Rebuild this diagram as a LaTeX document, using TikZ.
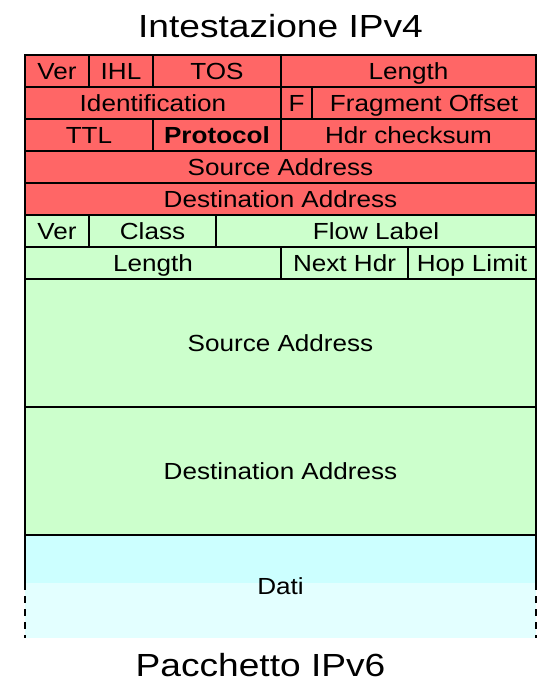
\documentclass[tikz,border=0pt]{standalone}
\usepackage{fontspec}
\setmainfont{Liberation Sans}[FakeStretch=1.12]
\newfontfamily\titlefont{Liberation Sans}[FakeStretch=1.16]
\definecolor{vfour}{HTML}{FF6666}
\definecolor{vsix}{HTML}{CCFFCC}
\definecolor{datitop}{HTML}{CCFFFF}
\definecolor{datibot}{HTML}{E3FFFF}
\tikzset{
  cell/.style={draw=black, line width=2.4pt, rectangle, inner sep=0pt, outer sep=0pt,
    minimum height=32pt, font=\fontsize{23.3}{28}\selectfont,
    text height=16.7pt, text depth=0pt, anchor=center},
  red cell/.style={cell, fill=vfour},
  green cell/.style={cell, fill=vsix},
  title/.style={font=\titlefont\fontsize{32}{38}\selectfont, inner sep=0pt,
    text height=22.7pt, text depth=0pt},
  border/.style={line width=2.4pt, draw=black},
  dashborder/.style={line width=2.4pt, draw=black, dash pattern=on 7pt off 6pt}
}
\begin{document}
\begin{tikzpicture}[x=1pt,y=-1pt]
\useasboundingbox (0,0) rectangle (541,679);
\node[title] (t4) at (280.5,26.3) {Intestazione IPv4};
% IPv4 header
\node[red cell, minimum width=64pt]  (v4ver) at (57,71) {Ver};
\node[red cell, minimum width=64pt]  (v4ihl) at (121,71) {IHL};
\node[red cell, minimum width=128pt] (v4tos) at (217,71) {TOS};
\node[red cell, minimum width=255pt] (v4len) at (408.5,71) {Length};
\node[red cell, minimum width=256pt] (v4id) at (153,103) {Identification};
\node[red cell, minimum width=31pt]  (v4f) at (296.5,103) {F};
\node[red cell, minimum width=224pt] (v4fo) at (424,103) {Fragment Offset};
\node[red cell, minimum width=128pt] (v4ttl) at (89,135) {TTL};
\node[red cell, minimum width=128pt] (v4proto) at (217,135) {\bfseries Protocol};
\node[red cell, minimum width=255pt] (v4chk) at (408.5,135) {Hdr checksum};
\node[red cell, minimum width=511pt] (v4src) at (280.5,167) {Source Address};
\node[red cell, minimum width=511pt] (v4dst) at (280.5,199) {Destination Address};
% IPv6 header
\node[green cell, minimum width=64pt]  (v6ver) at (57,231) {Ver};
\node[green cell, minimum width=127pt] (v6class) at (152.5,231) {Class};
\node[green cell, minimum width=320pt] (v6flow) at (376,231) {Flow Label};
\node[green cell, minimum width=256pt] (v6len) at (153,263) {Length};
\node[green cell, minimum width=127pt] (v6next) at (344.5,263) {Next Hdr};
\node[green cell, minimum width=128pt] (v6hop) at (472,263) {Hop Limit};
\node[green cell, minimum width=511pt, minimum height=128pt] (v6src) at (280.5,343) {Source Address};
\node[green cell, minimum width=511pt, minimum height=128pt] (v6dst) at (280.5,471) {Destination Address};
% Data
\fill[datitop] (25,535) rectangle (536,583);
\fill[datibot] (25,583) rectangle (536,638);
\node[cell, draw=none, minimum width=511pt, minimum height=103pt] (dati) at (280.5,586.5) {Dati};
\coordinate (lmid) at (25,583);
\coordinate (rmid) at (536,583);
\coordinate (lend) at (25,638);
\coordinate (rend) at (536,638);
\draw[border] (v6dst.south west) -- (lmid);
\draw[border] (v6dst.south east) -- (rmid);
\draw[dashborder] (lmid) -- (lend);
\draw[dashborder] (rmid) -- (rend);
\draw[border] (v6dst.south west) -- (v6dst.south east);
\node[title] (t6) at (260.5,665) {Pacchetto IPv6};
\end{tikzpicture}
\end{document}
